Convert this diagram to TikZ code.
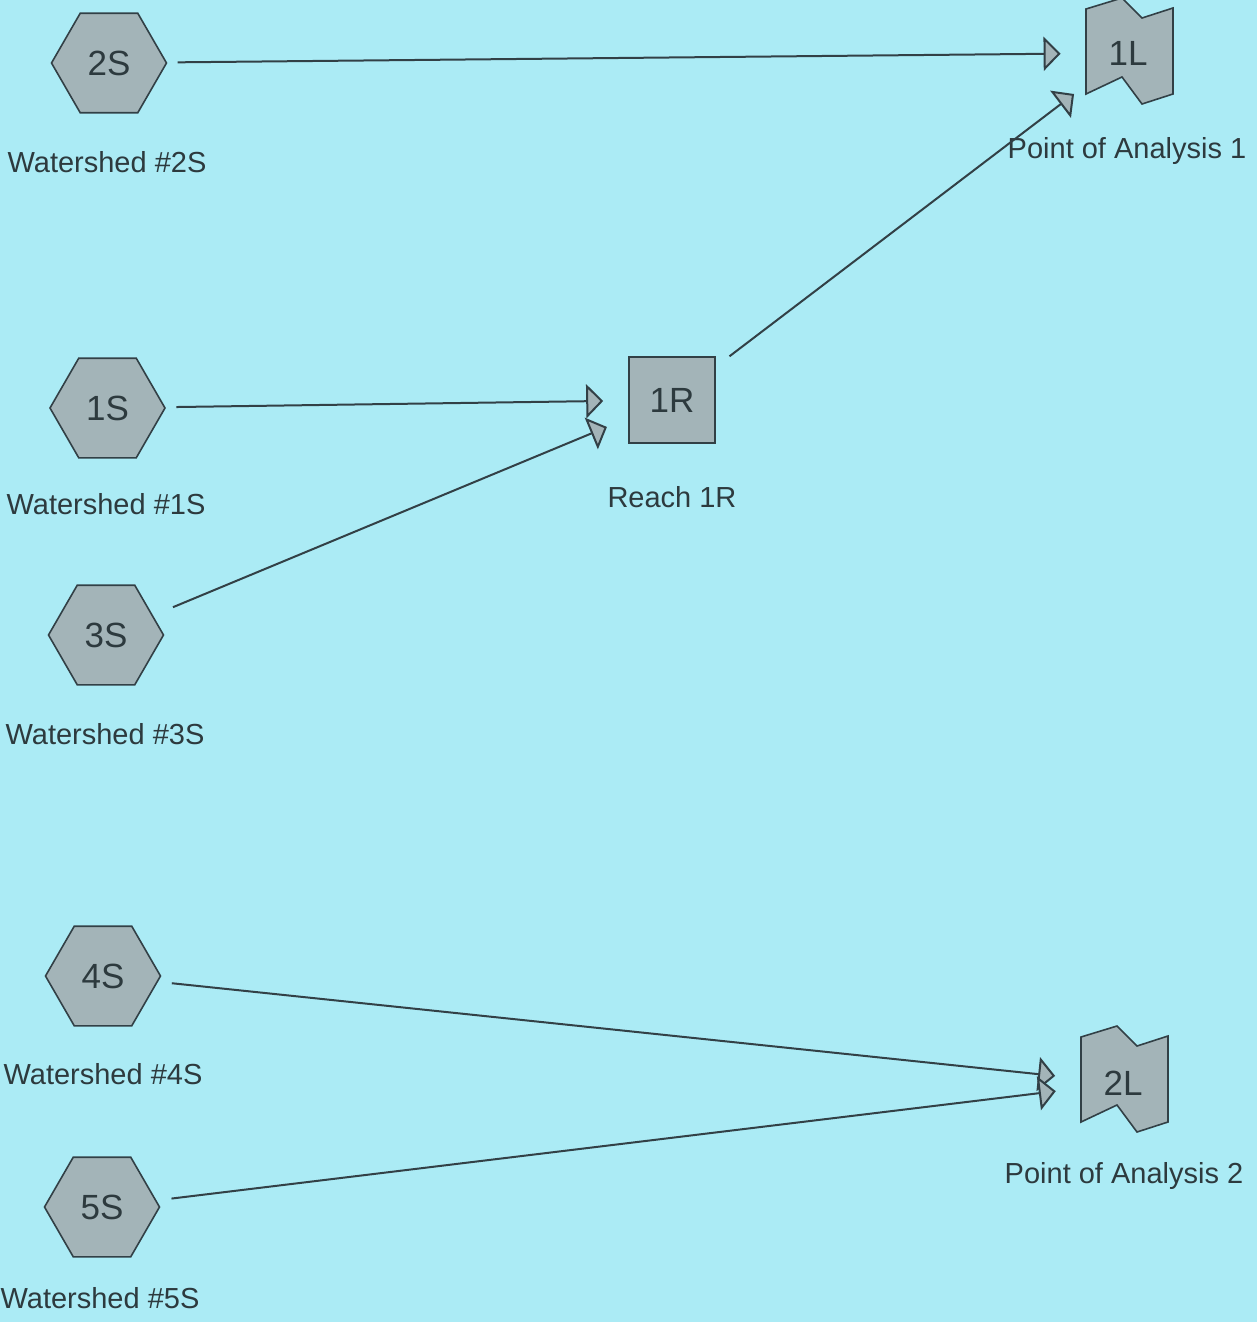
\documentclass[tikz,border=0pt]{standalone}
\usepackage{fontspec}
\setmainfont{Liberation Sans}
\usetikzlibrary{shapes.geometric,arrows.meta}
\definecolor{bg}{RGB}{171,235,245}
\definecolor{nodefill}{RGB}{163,180,184}
\definecolor{edgecol}{RGB}{50,64,70}
\definecolor{txt}{RGB}{45,58,62}
\begin{document}
\begin{tikzpicture}[x=0.5pt,y=-0.5pt,
  subcatch/.style={regular polygon, regular polygon sides=6, minimum size=57.5pt, inner sep=0pt,
    draw=edgecol, fill=nodefill, line width=0.8pt, text=txt, font=\fontsize{17.5}{20}\selectfont},
  reachbox/.style={rectangle, minimum size=43pt, inner sep=0pt,
    draw=edgecol, fill=nodefill, line width=0.8pt, text=txt, font=\fontsize{17.5}{20}\selectfont},
  pondanchor/.style={rectangle, minimum width=44pt, minimum height=43pt, inner sep=0pt,
    text=txt, font=\fontsize{17.5}{20}\selectfont},
  flagshape/.style={draw=edgecol, fill=nodefill, line width=0.8pt, line join=miter},
  lbl/.style={anchor=base, text=txt, font=\fontsize{14.5}{17}\selectfont, inner sep=0pt},
  flow/.style={draw=edgecol, line width=1pt,
    -{Triangle[length=8.5pt,width=17pt,fill=nodefill]},
    shorten <=5.5pt, shorten >=11.5pt}
]
\fill[bg] (0,0) rectangle (1257,1322);
\useasboundingbox (0,0) rectangle (1257,1322);

% subcatchments
\node[subcatch] (s2S) at (109,63) {2S};
\node[subcatch] (s1S) at (107.5,408) {1S};
\node[subcatch] (s3S) at (106,635) {3S};
\node[subcatch] (s4S) at (103,976) {4S};
\node[subcatch] (s5S) at (102,1207) {5S};

% reach
\node[reachbox] (r1R) at (672,400) {1R};

% points of analysis
\draw[flagshape, shift={(1128,53)}] (-42,-44) -- (-6,-55) -- (14,-35) -- (45,-45) -- (45,41) -- (14,51) -- (-6,24) -- (-42,41) -- cycle;
\node[pondanchor] (p1L) at (1128,53) {1L};
\draw[flagshape, shift={(1123,1081)}] (-42,-44) -- (-6,-55) -- (14,-35) -- (45,-45) -- (45,41) -- (14,51) -- (-6,24) -- (-42,41) -- cycle;
\node[pondanchor] (p2L) at (1123,1083) {2L};

% labels
\node[lbl] (l2S) at (107,172) {Watershed \#2S};
\node[lbl] (l1S) at (106,514) {Watershed \#1S};
\node[lbl] (l3S) at (105,744) {Watershed \#3S};
\node[lbl] (l4S) at (103,1084) {Watershed \#4S};
\node[lbl] (l5S) at (100,1308) {Watershed \#5S};
\node[lbl] (l1R) at (672,507) {Reach 1R};
\node[lbl] (l1L) at (1127,158) {Point of Analysis 1};
\node[lbl] (l2L) at (1124,1183) {Point of Analysis 2};

% flows
\draw[flow, shorten <=5.25pt] (s2S) -- (p1L);
\draw[flow, shorten >=12.5pt] (s1S) -- (r1R);
\draw[flow, shorten <=10.75pt] (s3S) -- (r1R);
\draw[flow, shorten <=8.6pt, shorten >=6pt] (r1R) -- (p1L);
\draw[flow, shorten <=6.9pt, shorten >=11.8pt] (s4S) -- (p2L);
\draw[flow, shorten <=7.5pt] (s5S) -- (p2L);
\end{tikzpicture}
\end{document}
